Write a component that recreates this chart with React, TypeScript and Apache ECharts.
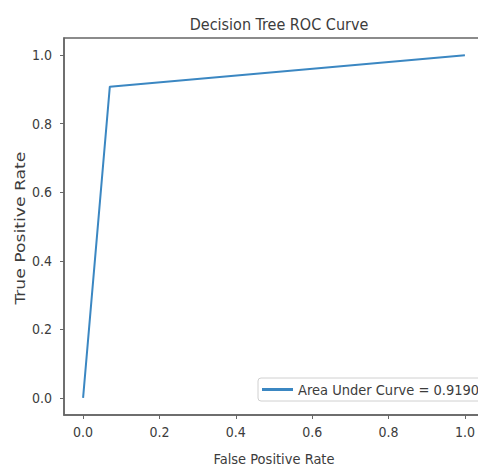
import React, { useEffect, useRef } from "react";
import * as echarts from "echarts";

const titleText = "Decision Tree ROC Curve";
const xName = "False Positive Rate";
const yName = "True Positive Rate";
const seriesName = "Area Under Curve = 0.9190";
const fpr = [0.0, 0.07, 1.0];
const tpr = [0.0, 0.908, 1.0];
const xTicks = [0.0, 0.2, 0.4, 0.6, 0.8, 1.0];
const yTicks = [0.0, 0.2, 0.4, 0.6, 0.8, 1.0];

const NARROW = '"DejaVu Sans Condensed", "Liberation Sans", sans-serif';
const TEXT = "#3c3c3c";
const AXIS = "#666666";

export default function App() {
  const ref = useRef<HTMLDivElement>(null);
  useEffect(() => {
    if (!ref.current) return;
    const chart = echarts.init(ref.current, undefined, { renderer: "svg" });
    const data = fpr.map((x, i) => [x, tpr[i]]);
    chart.setOption({
      animation: false,
      backgroundColor: "#ffffff",
      title: {
        text: titleText,
        left: 274,
        textAlign: "center",
        top: 11,
        textStyle: { fontFamily: NARROW, fontSize: 16, fontWeight: "normal", color: TEXT },
      },
      graphic: [
        {
          type: "text",
          x: 20,
          y: 228,
          rotation: Math.PI / 2,
          scaleX: 1.32,
          scaleY: 1.0,
          style: {
            text: yName,
            fontFamily: NARROW,
            fontSize: 14.5,
            fill: TEXT,
            align: "center",
            verticalAlign: "middle",
          },
        },
      ],
      grid: {
        left: 64,
        top: 38,
        right: 2,
        bottom: 55,
        show: true,
        borderColor: AXIS,
        borderWidth: 1.5,
        backgroundColor: "transparent",
      },
      legend: {
        left: 258,
        top: 378,
        orient: "horizontal",
        icon: "rect",
        itemWidth: 31,
        itemHeight: 3,
        itemGap: 5,
        padding: [4, 16, 4, 4],
        borderColor: "#d0d0d0",
        borderWidth: 1,
        borderRadius: 3,
        backgroundColor: "#ffffff",
        textStyle: { fontFamily: NARROW, fontSize: 14.5, color: TEXT },
        data: [seriesName],
      },
      xAxis: {
        type: "value",
        min: -0.05,
        max: 1.05,
        name: xName,
        nameLocation: "middle",
        nameGap: 36,
        nameTextStyle: { fontFamily: NARROW, fontSize: 14.5, color: TEXT },
        axisLine: { show: true, onZero: false, lineStyle: { color: AXIS, width: 1.5 } },
        axisTick: { show: true, length: 4, lineStyle: { color: AXIS }, customValues: xTicks },
        axisLabel: {
          customValues: xTicks,
          formatter: (v: number) => v.toFixed(1),
          fontFamily: NARROW,
          fontSize: 14,
          color: TEXT,
          margin: 10,
        },
        splitLine: { show: false },
      },
      yAxis: {
        type: "value",
        min: -0.05,
        max: 1.05,
        axisLine: { show: true, onZero: false, lineStyle: { color: AXIS, width: 1.5 } },
        axisTick: { show: true, length: 4, lineStyle: { color: AXIS }, customValues: yTicks },
        axisLabel: {
          customValues: yTicks,
          formatter: (v: number) => v.toFixed(1),
          fontFamily: NARROW,
          fontSize: 14,
          color: TEXT,
          margin: 12,
        },
        splitLine: { show: false },
      },
      series: [
        {
          name: seriesName,
          type: "line",
          data,
          symbol: "none",
          lineStyle: { color: "#3b87c2", width: 2 },
          itemStyle: { color: "#3b87c2" },
        },
      ],
    });
    return () => chart.dispose();
  }, []);
  return (
    <div
      style={{ position: "absolute", left: 0, top: 0, width: 478, height: 471, overflow: "hidden" }}
    >
      <div ref={ref} style={{ width: 486, height: 471 }} />
    </div>
  );
}
